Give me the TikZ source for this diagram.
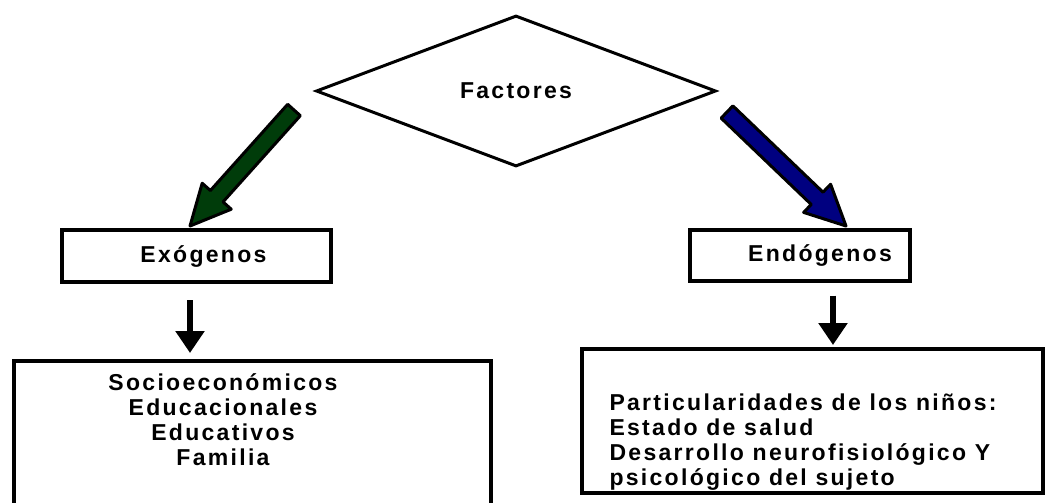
\documentclass[tikz,border=0pt]{standalone}
\usepackage{fontspec}
\usepackage{tikz}
\usetikzlibrary{shapes.geometric,arrows.meta,calc}
\newfontfamily\boxfont{Liberation Sans}[LetterSpace=10]
\definecolor{verdeflecha}{RGB}{0,60,10}
\definecolor{azulflecha}{RGB}{0,0,128}

% flecha gruesa con contorno: cola, punta, color
\newcommand{\flechagorda}[3]{%
  \coordinate (hb) at ($(#2)!40pt!(#1)$);
  \draw[line width=3pt, line join=round, fill=#3]
    ($(#1)!8.5pt!90:(#2)$) -- ($(hb)!8.5pt!90:(#2)$) -- ($(hb)!19.5pt!90:(#2)$)
    -- (#2) -- ($(hb)!19.5pt!-90:(#2)$) -- ($(hb)!8.5pt!-90:(#2)$)
    -- ($(#1)!8.5pt!-90:(#2)$) -- cycle;}

\tikzset{
  texto/.style={font=\boxfont\bfseries\fontsize{23}{25}\selectfont},
  caja/.style={draw, line width=4pt, inner sep=0pt},
  flechita/.style={line width=6pt, -{Triangle[width=28pt,length=22pt]}},
}

\begin{document}
\begin{tikzpicture}[x=1pt,y=-1pt]
  \useasboundingbox (0,0) rectangle (1049,503);
  \clip (0,0) rectangle (1049,503);

  \node[draw, shape=diamond, line width=3pt, minimum width=400pt, minimum height=151pt, inner sep=0pt, texto] (fac) at (516,91) {Factores};

  \node[caja, texto, minimum width=269pt, minimum height=52pt] (exo) at (196.5,256) {\hspace*{14pt}Ex\'ogenos};
  \node[caja, texto, minimum width=220pt, minimum height=51pt] (endo) at (800,255.5) {\hspace*{40pt}End\'ogenos};

  \node[caja, minimum width=477pt, minimum height=154pt] (soc) at (252.5,438) {};
  \node[texto, align=center] (soctxt) at (223,420) {Socioecon\'omicos\\Educacionales\\Educativos\\Familia};

  \node[caja, minimum width=461pt, minimum height=144pt] (par) at (812.5,421) {};
  \node[texto, align=left, anchor=west] (partxt) at (606,442) {Particularidades de los ni\~nos:\\Estado de salud\\Desarrollo neurofisiol\'ogico Y\\psicol\'ogico del sujeto};

  \coordinate (gcola) at (294,110);
  \coordinate (gpunta) at (190,226);
  \coordinate (acola) at (727,112);
  \coordinate (apunta) at (846,226);
  \flechagorda{gcola}{gpunta}{verdeflecha}
  \flechagorda{acola}{apunta}{azulflecha}

  \coordinate (e1) at ([xshift=-6.5pt,yshift=-16pt]exo.south);
  \draw[flechita, shorten >=6pt] (e1) -- (e1 |- soc.north);
  \coordinate (e2) at ([xshift=33pt,yshift=-12.5pt]endo.south);
  \draw[flechita, line width=5.5pt, shorten >=2pt] (e2) -- (e2 |- par.north);
\end{tikzpicture}
\end{document}
